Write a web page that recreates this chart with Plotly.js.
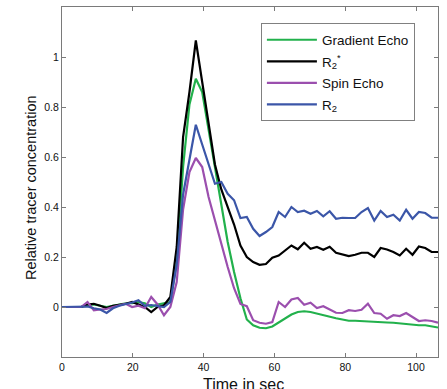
<!DOCTYPE html>
<html>
<head>
<meta charset="utf-8">
<script src="https://cdn.plot.ly/plotly-3.0.1.min.js"></script>
<style>html,body{margin:0;padding:0;background:#fff;}#chart{width:447px;height:389px;}</style>
</head>
<body>
<div id="chart"></div>
<script>
const timeSec = [0,1.8,3.6,5.4,7.2,9,10.8,12.6,14.4,16.2,18,19.8,21.6,23.4,25.2,27,28.8,30.6,32.4,34.2,36,37.8,39.6,41.4,43.2,45,46.8,48.6,50.4,52.2,54,55.8,57.6,59.4,61.2,63,64.8,66.6,68.4,70.2,72,73.8,75.6,77.4,79.2,81,82.8,84.6,86.4,88.2,90,91.8,93.6,95.4,97.2,99,100.8,102.6,104.4,106.2];

const gradientEcho = [0,0,0,0,0.005,0.01,0.005,0.0,0.005,0.01,0.015,0.015,0.02,0.015,0.0,0.01,0.015,0.02,0.18,0.56,0.81,0.913,0.86,0.71,0.55,0.41,0.26,0.14,0.035,-0.05,-0.073,-0.083,-0.085,-0.078,-0.062,-0.045,-0.03,-0.02,-0.017,-0.02,-0.027,-0.033,-0.04,-0.045,-0.05,-0.055,-0.055,-0.057,-0.057,-0.058,-0.062,-0.062,-0.063,-0.066,-0.068,-0.072,-0.073,-0.073,-0.077,-0.082];

const r2Star = [0,0,0,0,0.01,0.013,0.005,-0.004,0.005,0.008,0.013,0.02,0.01,0.0,-0.02,0.0,0.007,0.04,0.24,0.68,0.86,1.066,0.9,0.74,0.57,0.47,0.40,0.33,0.246,0.2,0.18,0.169,0.172,0.197,0.206,0.227,0.246,0.231,0.257,0.233,0.24,0.229,0.241,0.217,0.209,0.204,0.209,0.217,0.217,0.2,0.236,0.23,0.22,0.206,0.233,0.209,0.242,0.236,0.22,0.22];

const spinEcho = [0,0,0,0,0.02,-0.013,-0.01,-0.008,0.0,0.005,0.013,0.0,0.005,-0.005,0.04,0.01,-0.033,0.0,0.1,0.39,0.54,0.596,0.56,0.44,0.345,0.26,0.16,0.075,0.012,0.003,-0.053,-0.063,-0.067,-0.06,0.02,0.0,0.03,0.036,0.009,0.017,-0.004,0.003,-0.011,-0.023,-0.024,-0.013,-0.016,-0.011,0.013,-0.024,-0.027,-0.047,-0.033,-0.036,-0.024,-0.04,-0.056,-0.053,-0.056,-0.063];

const r2 = [0,0,0,0,0.002,-0.005,-0.01,-0.024,-0.005,0.005,0.01,0.018,0.027,0.005,0.008,0.005,0.0,0.02,0.17,0.45,0.59,0.729,0.65,0.575,0.493,0.5,0.453,0.427,0.356,0.36,0.313,0.284,0.3,0.32,0.38,0.36,0.4,0.38,0.385,0.373,0.384,0.363,0.383,0.353,0.357,0.356,0.356,0.38,0.396,0.346,0.384,0.36,0.369,0.346,0.389,0.353,0.38,0.376,0.357,0.357];

const seriesNames = ['Gradient Echo', 'R<sub>2</sub><sup>*</sup>', 'Spin Echo', 'R<sub>2</sub>'];
const seriesColors = ['#22b14c', '#000000', '#9b4fae', '#3b56a8'];
const xTickVals = [0, 20, 40, 60, 80, 100];
const yTickVals = [0, 0.2, 0.4, 0.6, 0.8, 1];
const yTickText = ['0', '0.2', '0.4', '0.6', '0.8', '1'];

const seriesData = [gradientEcho, r2Star, spinEcho, r2];
const traces = seriesData.map((ys, k) => ({
  x: timeSec, y: ys, type: 'scatter', mode: 'lines',
  name: seriesNames[k], legendgroup: 'g' + k,
  line: {color: seriesColors[k], width: 2.2}
}));

const axisCommon = {
  showline: true, mirror: 'ticks', linecolor: '#7a7a7a', linewidth: 1,
  ticks: 'inside', ticklen: 4, tickcolor: '#7a7a7a', tickwidth: 1,
  showgrid: false, zeroline: false,
  tickfont: {family: 'Liberation Sans, Arial, sans-serif', size: 10.5, color: '#111'}
};

const layout = {
  width: 447, height: 389,
  margin: {l: 62, r: 9, t: 7, b: 32},
  paper_bgcolor: '#fff', plot_bgcolor: '#fff',
  font: {family: 'Liberation Sans, Arial, sans-serif', color: '#111'},
  showlegend: true,
  legend: {
    x: 0.529, y: 0.953, xanchor: 'left', yanchor: 'top',
    bgcolor: '#fff', bordercolor: '#808080', borderwidth: 1,
    font: {size: 13.5, color: '#111'}, itemwidth: 50,
    tracegroupgap: 1
  },
  xaxis: Object.assign({}, axisCommon, {range: [0, 106.2], tickvals: xTickVals}),
  yaxis: Object.assign({}, axisCommon, {range: [-0.2, 1.2], tickvals: yTickVals, ticktext: yTickText}),
  annotations: [
    {text: 'Time in sec', xref: 'paper', yref: 'paper', x: 0.484, y: -0.048,
     xanchor: 'center', yanchor: 'top', showarrow: false, font: {size: 16, color: '#111'}},
    {text: 'Relative tracer concentration', xref: 'paper', yref: 'paper', x: -0.084, y: 0.484,
     xanchor: 'center', yanchor: 'middle', textangle: -90, showarrow: false, font: {size: 14.5, color: '#111'}}
  ]
};

Plotly.newPlot('chart', traces, layout, {displayModeBar: false, staticPlot: true});
</script>
</body>
</html>
